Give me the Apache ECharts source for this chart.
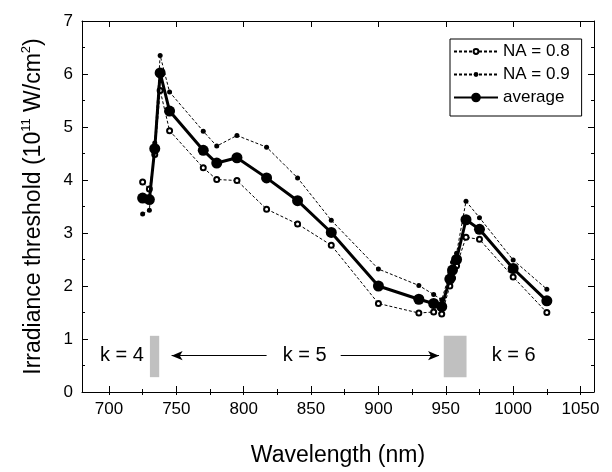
<!DOCTYPE html>
<html>
<head>
<meta charset="utf-8">
<script src="https://cdn.jsdelivr.net/npm/echarts@6/dist/echarts.min.js"></script>
<style>html,body{margin:0;padding:0;background:#fff;}#c{width:612px;height:472px;}</style>
</head>
<body>
<div id="c"></div>
<script>
// Wavelength (nm) shared by all series
const wavelengths = [725, 730, 734, 738, 745, 770, 780, 795, 817, 840, 865, 900, 930, 941, 947, 953, 955, 958, 965, 975, 1000, 1025];
const na08 = [3.96, 3.83, 4.48, 5.69, 4.93, 4.23, 4.01, 3.99, 3.45, 3.17, 2.77, 1.67, 1.49, 1.51, 1.47, 2.00, 2.15, 2.38, 2.92, 2.88, 2.17, 1.50];
const na09 = [3.36, 3.43, 4.70, 6.35, 5.66, 4.92, 4.64, 4.84, 4.62, 4.04, 3.24, 2.32, 2.01, 1.84, 1.74, 2.25, 2.45, 2.62, 3.60, 3.29, 2.49, 1.94];
const average = [3.66, 3.63, 4.59, 6.02, 5.30, 4.56, 4.32, 4.42, 4.04, 3.61, 3.01, 2.00, 1.75, 1.67, 1.61, 2.13, 2.30, 2.50, 3.25, 3.07, 2.33, 1.72];
const seriesNames = ['NA = 0.8', 'NA = 0.9', 'average'];

const xTickLabels = [700, 750, 800, 850, 900, 950, 1000, 1050];
const xMinorTicks = [700, 725, 750, 775, 800, 825, 850, 875, 900, 925, 950, 975, 1000, 1025, 1050];
const yTickLabels = [0, 1, 2, 3, 4, 5, 6, 7];

// mode-transition bands [xFrom, xTo, yFrom, yTo]
const bands = [[730.4, 737.3, 0.28, 1.06], [948.5, 965.4, 0.28, 1.06]];
// arrows [xFrom, xTo, y]
const arrows = [[817, 746.5, 0.685], [872, 945, 0.685]];
// labels [text, x, y]
const kLabels = [['k = 4', 709.6, 0.685], ['k = 5', 845.2, 0.685], ['k = 6', 1000.4, 0.685]];

const FONT = 'Liberation Sans, Arial, sans-serif';
const black = '#000';

function pairs(ys) { return wavelengths.map((x, i) => [x, ys[i]]); }

const baseX = {
  type: 'value', min: 680, max: 1060, splitLine: { show: false }
};
const legendText = { fontSize: 17, color: black, fontFamily: FONT };
const chart = echarts.init(document.getElementById('c'), null, { renderer: 'canvas' });
chart.setOption({
  animation: false,
  backgroundColor: '#fff',
  grid: { left: 82, right: 18, top: 21, bottom: 76, containLabel: false },
  xAxis: [
    Object.assign({}, baseX, {
      position: 'bottom',
      axisLine: { onZero: false, lineStyle: { color: black, width: 1 } },
      axisTick: { inside: true, length: 6, customValues: xTickLabels, lineStyle: { color: black } },
      axisLabel: { customValues: xTickLabels, fontSize: 17, color: black, fontFamily: FONT, margin: 9,
        formatter: v => String(v) },
      name: 'Wavelength (nm)', nameLocation: 'middle', nameGap: 52,
      nameTextStyle: { fontSize: 23, color: black, fontFamily: FONT }
    }),
    Object.assign({}, baseX, {
      position: 'bottom',
      axisLine: { show: false },
      axisTick: { inside: true, length: 3, customValues: xMinorTicks, lineStyle: { color: black } },
      axisLabel: { show: false }
    }),
    Object.assign({}, baseX, {
      position: 'top',
      axisLine: { onZero: false, lineStyle: { color: black, width: 1 } },
      axisTick: { inside: true, length: 6, customValues: xTickLabels, lineStyle: { color: black } },
      axisLabel: { show: false }
    }),
    Object.assign({}, baseX, {
      position: 'top',
      axisLine: { show: false },
      axisTick: { inside: true, length: 3, customValues: xMinorTicks, lineStyle: { color: black } },
      axisLabel: { show: false }
    })
  ],
  yAxis: [
    {
      type: 'value', min: 0, max: 7, interval: 1, position: 'left',
      splitLine: { show: false },
      axisLine: { onZero: false, lineStyle: { color: black, width: 1 } },
      axisTick: { inside: true, length: 6, lineStyle: { color: black } },
      minorTick: { show: true, splitNumber: 2, length: 3, lineStyle: { color: black } },
      axisLabel: { fontSize: 17, color: black, fontFamily: FONT, margin: 9,
        formatter: v => yTickLabels.includes(v) ? String(v) : '' },
      name: '{a|Irradiance threshold (10}{s|11}{a| W/cm}{s|2}{a|)}',
      nameLocation: 'middle', nameGap: 34,
      nameTextStyle: {
        color: black, fontFamily: FONT,
        rich: {
          a: { fontSize: 23, color: black, fontFamily: FONT, lineHeight: 28 },
          s: { fontSize: 13, color: black, fontFamily: FONT, lineHeight: 14, verticalAlign: 'top' }
        }
      }
    },
    {
      type: 'value', min: 0, max: 7, interval: 1, position: 'right',
      splitLine: { show: false },
      axisLine: { onZero: false, lineStyle: { color: black, width: 1 } },
      axisTick: { inside: true, length: 6, lineStyle: { color: black } },
      minorTick: { show: true, splitNumber: 2, length: 3, lineStyle: { color: black } },
      axisLabel: { show: false }
    }
  ],
  legend: [
    {
      data: seriesNames.slice(0, 2),
      orient: 'vertical',
      left: 450, top: 39,
      itemWidth: 44, itemHeight: 6, itemGap: 6,
      padding: [4, 12, 33, 3],
      borderColor: black, borderWidth: 1, borderRadius: 0,
      backgroundColor: '#fff',
      textStyle: legendText
    },
    {
      data: seriesNames.slice(2),
      orient: 'vertical',
      left: 453, top: 89,
      itemWidth: 44, itemHeight: 12,
      padding: 0,
      textStyle: legendText
    }
  ],
  series: [
    {
      name: 'annotations', type: 'line', data: [], silent: true,
      markArea: {
        silent: true,
        itemStyle: { color: '#c0c0c0' },
        data: bands.map(b => [{ coord: [b[0], b[2]] }, { coord: [b[1], b[3]] }])
      },
      markLine: {
        silent: true,
        symbolSize: [7, 11],
        label: { show: false },
        lineStyle: { color: black, width: 1, type: 'solid' },
        data: arrows.map(a => [
          { coord: [a[0], a[2]], symbol: 'none' },
          { coord: [a[1], a[2]], symbol: 'arrow' }
        ])
      },
      markPoint: {
        silent: true,
        symbol: 'circle', symbolSize: 0,
        label: { show: true, position: 'inside', formatter: '{b}', fontSize: 20, color: black, fontFamily: FONT },
        data: kLabels.map(k => ({ name: k[0], coord: [k[1], k[2]] }))
      }
    },
    {
      name: seriesNames[0], type: 'line', data: pairs(na08),
      symbol: 'emptyCircle', symbolSize: 5, showAllSymbol: true,
      itemStyle: { color: black, borderColor: black, borderWidth: 1 },
      lineStyle: { color: black, width: 1, type: [3, 2] }, z: 3
    },
    {
      name: seriesNames[1], type: 'line', data: pairs(na09),
      symbol: 'circle', symbolSize: 5, showAllSymbol: true,
      itemStyle: { color: black },
      lineStyle: { color: black, width: 1, type: [3, 2] }, z: 3
    },
    {
      name: seriesNames[2], type: 'line', data: pairs(average),
      symbol: 'circle', symbolSize: 11, showAllSymbol: true,
      itemStyle: { color: black },
      lineStyle: { color: black, width: 3 }, z: 4
    }
  ]
});
</script>
</body>
</html>
